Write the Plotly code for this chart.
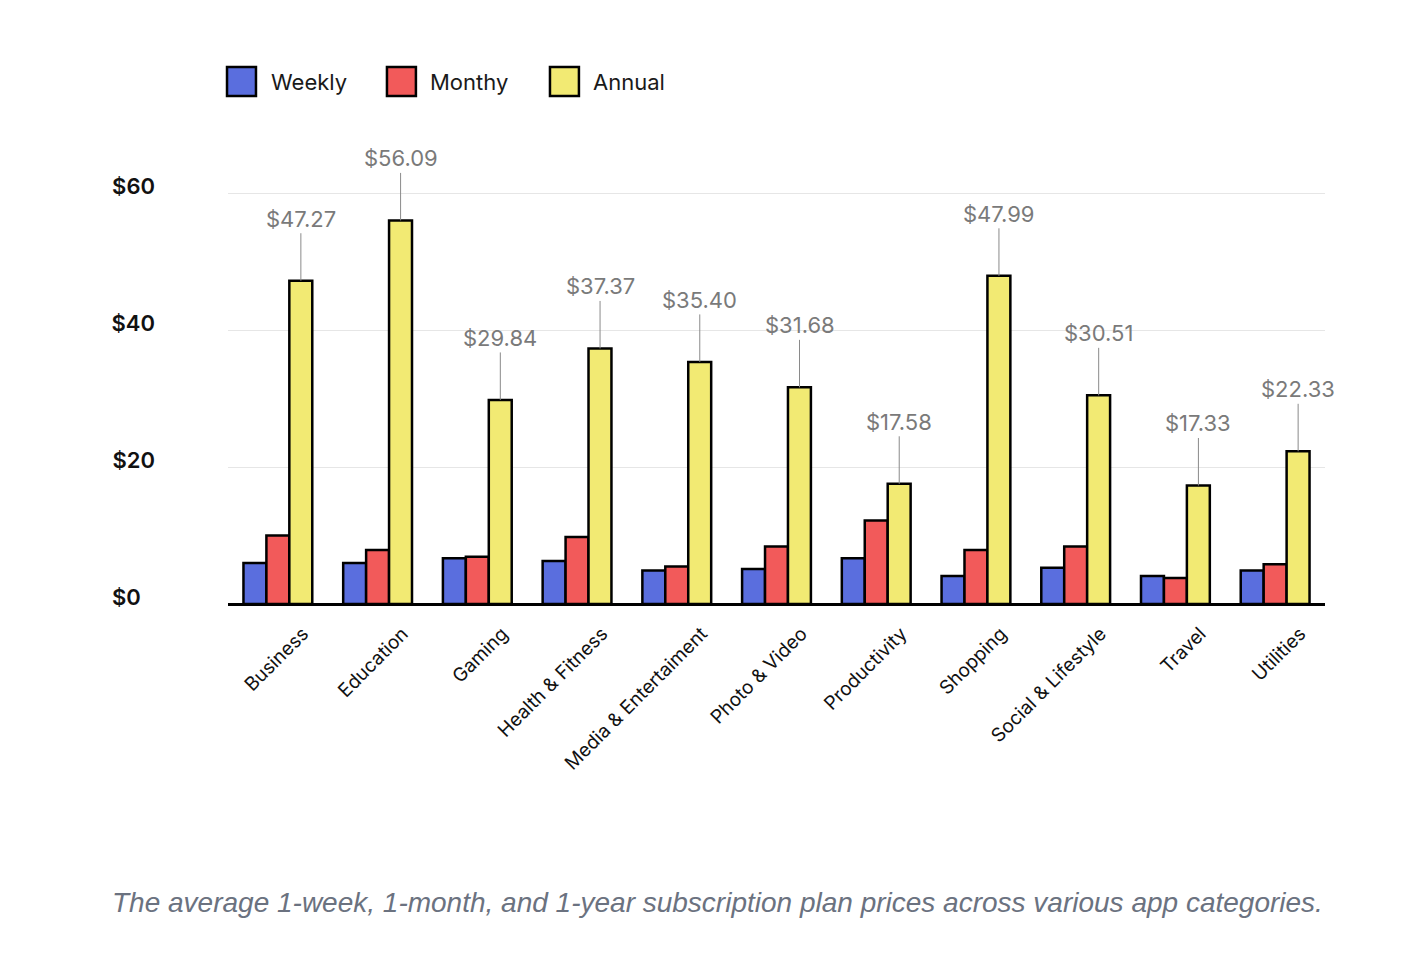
import plotly.graph_objects as go

categories = ["Business", "Education", "Gaming", "Health & Fitness", "Media & Entertaiment",
              "Photo & Video", "Productivity", "Shopping", "Social & Lifestyle", "Travel", "Utilities"]
weekly = [6.0, 6.0, 6.7, 6.3, 4.9, 5.1, 6.7, 4.1, 5.3, 4.1, 4.9]
monthly = [10.0, 7.9, 6.9, 9.8, 5.5, 8.4, 12.2, 7.9, 8.4, 3.8, 5.8]
annual = [47.27, 56.09, 29.84, 37.37, 35.40, 31.68, 17.58, 47.99, 30.51, 17.33, 22.33]
series_names = ["Weekly", "Monthy", "Annual"]
colors = ["#5a6ede", "#f25a5a", "#f2ea73"]
y_tickvals = [0, 20, 40, 60]
y_ticktext = ["$0\u2007", "$20", "$40", "$60"]
caption = "The average 1-week, 1-month, and 1-year subscription plan prices across various app categories."

# legend swatch layout (paper coords)
legend_swatch_x = [-0.0009, 0.1449, 0.2935]
legend_text_x = [0.0374, 0.1823, 0.3309]
sw_w = 0.0264
sw_y0, sw_y1 = 1.198, 1.2665

fig = go.Figure()
for name, vals, col in zip(series_names, [weekly, monthly, annual], colors):
    fig.add_trace(go.Bar(x=categories, y=vals, name=name, showlegend=False,
                         marker=dict(color=col, line=dict(color="black", width=2.5)),
                         hoverinfo="skip"))

for name, col, sx, tx in zip(series_names, colors, legend_swatch_x, legend_text_x):
    fig.add_shape(type="rect", xref="paper", yref="paper", x0=sx, x1=sx + sw_w,
                  y0=sw_y0, y1=sw_y1, fillcolor=col, line=dict(color="black", width=2.5))
    fig.add_annotation(x=tx, y=(sw_y0 + sw_y1) / 2, xref="paper", yref="paper",
                       text=name, showarrow=False, xanchor="left", yanchor="middle",
                       font=dict(family="Inter", size=22, color="#1a1a1a"))

for cat, v in zip(categories, annual):
    fig.add_annotation(x=cat, y=v, xref="x", yref="y", xshift=23,
                       text=f"${v:.2f}", showarrow=True, arrowhead=0, arrowwidth=1,
                       arrowcolor="#8a8a8a", ax=0, ay=-62,
                       font=dict(family="Inter", size=22, color="#7a7a7a"))

fig.add_annotation(x=0.4458, y=-0.705, xref="paper", yref="paper", showarrow=False,
                   text=f"<i>{caption}</i>", xanchor="center", yanchor="middle",
                   font=dict(family="Liberation Sans", size=28, color="#6b7280"))

fig.update_layout(
    width=1404, height=958,
    paper_bgcolor="white", plot_bgcolor="white",
    margin=dict(l=220, r=87, t=172, b=362),
    barmode="group", bargap=0.31, bargroupgap=0,
    showlegend=False,
    font=dict(family="Inter"),
)
fig.update_xaxes(showgrid=False, showline=False, ticks="", tickangle=-45,
                 range=[-0.5, len(categories) - 0.5],
                 ticklabelshift=25, ticklabelstandoff=14,
                 tickfont=dict(family="Inter", size=19, color="#111111"))
fig.update_yaxes(range=[0, 62], tickvals=y_tickvals, ticktext=y_ticktext,
                 showgrid=True, gridcolor="#e6e6e6", gridwidth=1,
                 zeroline=True, zerolinecolor="black", zerolinewidth=2.5,
                 ticks="", ticklabelstandoff=72, ticklabelshift=-7,
                 tickfont=dict(family="Inter", size=22, color="#111111", weight=600))

fig.write_html("out.html")
